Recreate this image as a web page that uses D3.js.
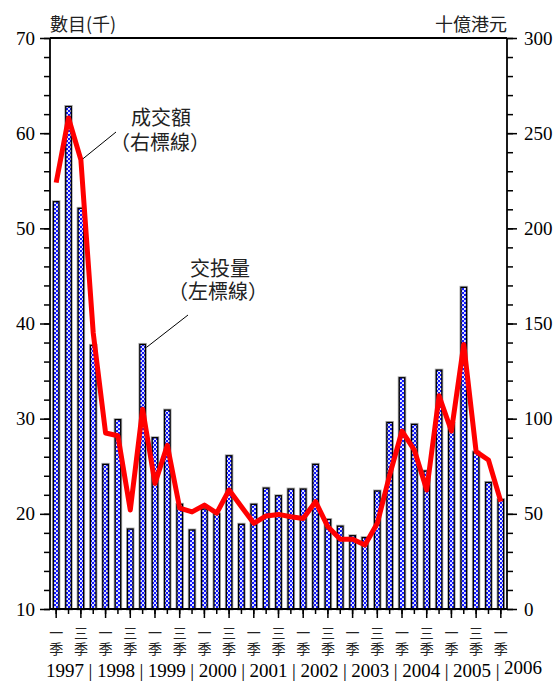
<!DOCTYPE html>
<html>
<head>
<meta charset="utf-8">
<script src="https://cdn.jsdelivr.net/npm/d3@7"></script>
<style>
  body { margin: 0; background: #fff; }
  svg { display: block; }
</style>
</head>
<body>
<svg id="chart" width="557" height="682"></svg>
<script>
// Quarterly categories, 1997 Q1 to 2006 Q1
const quarters = [
  "1997Q1","1997Q2","1997Q3","1997Q4",
  "1998Q1","1998Q2","1998Q3","1998Q4",
  "1999Q1","1999Q2","1999Q3","1999Q4",
  "2000Q1","2000Q2","2000Q3","2000Q4",
  "2001Q1","2001Q2","2001Q3","2001Q4",
  "2002Q1","2002Q2","2002Q3","2002Q4",
  "2003Q1","2003Q2","2003Q3","2003Q4",
  "2004Q1","2004Q2","2004Q3","2004Q4",
  "2005Q1","2005Q2","2005Q3","2005Q4",
  "2006Q1"
];

// 交投量 (thousands, left axis)
const volume = [
  52.8, 62.8, 52.1, 37.7,
  25.2, 29.9, 18.4, 37.8,
  28.0, 30.9, 21.0, 18.3,
  20.5, 20.0, 26.1, 18.9,
  21.0, 22.7, 21.9, 22.6,
  22.6, 25.2, 19.4, 18.7,
  17.7, 17.5, 22.4, 29.6,
  34.3, 29.4, 24.5, 35.1,
  29.5, 43.8, 26.5, 23.3,
  21.5
];

// 成交額 (HK$ billion, right axis)
const turnover = [
  224, 258, 236, 145,
  92.5, 91, 52, 105,
  66, 86, 53, 51,
  54.6, 50.4, 62.5, 53.7,
  45, 48.9, 49.7, 48.5,
  47.6, 56.4, 43.2, 36.6,
  36.6, 33.6, 45, 70.4,
  93.5, 83.5, 62.5, 112,
  93.5, 139, 82.7, 78.3,
  56.4
];

// Axis tick values
const leftMajor = [10, 20, 30, 40, 50, 60, 70];
const leftMinor = d3.range(10, 71, 2);
const rightMajor = [0, 50, 100, 150, 200, 250, 300];
const rightMinor = d3.range(0, 301, 10);

// Quarter marks shown under Q1 and Q3
const quarterMarks = { Q1: "一", Q3: "三" };
const quarterWord = "季";
const years = ["1997","1998","1999","2000","2001","2002","2003","2004","2005","2006"];

const svg = d3.select("#chart");
const plotL = 50, plotR = 507, plotT = 38, plotB = 609;

const x = d3.scaleBand().domain(quarters).range([plotL, plotR])
  .paddingInner(0.55).paddingOuter(0.275);
const yL = d3.scaleLinear().domain([10, 70]).range([plotB, plotT]);
const yR = d3.scaleLinear().domain([0, 300]).range([plotB, plotT]);

const numFont = "'Liberation Serif', 'Times New Roman', serif";
const cjkFont = "'Noto Sans CJK TC', 'Noto Sans CJK SC', sans-serif";

// Fill pattern for the bars: blue lattice with white dots
const defs = svg.append("defs");
const pat = defs.append("pattern").attr("id", "checks")
  .attr("patternUnits", "userSpaceOnUse").attr("width", 4).attr("height", 4);
pat.append("rect").attr("width", 4).attr("height", 4).attr("fill", "#1018ff");
pat.append("circle").attr("cx", 1).attr("cy", 1).attr("r", 1.05).attr("fill", "#ffffff");
pat.append("circle").attr("cx", 3).attr("cy", 3).attr("r", 1.05).attr("fill", "#ffffff");

// Bars
const bars = svg.append("g");
bars.selectAll("rect.halo").data(volume).join("rect").attr("class", "halo")
  .attr("x", (d, i) => x(quarters[i]))
  .attr("y", d => yL(d))
  .attr("width", x.bandwidth())
  .attr("height", d => yL(10) - yL(d))
  .attr("fill", "none").attr("stroke", "#b0b0b0").attr("stroke-width", 3);
bars.selectAll("rect.bar").data(volume).join("rect").attr("class", "bar")
  .attr("x", (d, i) => x(quarters[i]))
  .attr("y", d => yL(d))
  .attr("width", x.bandwidth())
  .attr("height", d => yL(10) - yL(d))
  .attr("fill", "url(#checks)").attr("stroke", "#000").attr("stroke-width", 1.3);

// Turnover line
const line = d3.line()
  .x((d, i) => x(quarters[i]) + x.bandwidth() / 2)
  .y(d => yR(d));
svg.append("path").datum(turnover)
  .attr("d", line)
  .attr("fill", "none").attr("stroke", "#ff0000")
  .attr("stroke-width", 5).attr("stroke-linejoin", "round");

// Axes
function styleAxis(g) {
  g.select(".domain").remove();
  g.selectAll(".tick line").attr("stroke", "#000").attr("stroke-width", 1.5);
  g.selectAll(".tick text").attr("font-family", numFont).attr("font-size", 19).attr("fill", "#000");
}
svg.append("g").attr("transform", `translate(${plotL},0)`)
  .call(d3.axisLeft(yL).tickValues(leftMinor).tickSize(6).tickFormat(""))
  .call(styleAxis);
svg.append("g").attr("transform", `translate(${plotL},0)`)
  .call(d3.axisLeft(yL).tickValues(leftMajor).tickSize(10).tickPadding(5).tickFormat(d3.format("d")))
  .call(styleAxis);
svg.append("g").attr("transform", `translate(${plotR},0)`)
  .call(d3.axisRight(yR).tickValues(rightMinor).tickSize(6).tickFormat(""))
  .call(styleAxis);
svg.append("g").attr("transform", `translate(${plotR},0)`)
  .call(d3.axisRight(yR).tickValues(rightMajor).tickSize(10).tickPadding(7).tickFormat(d3.format("d")))
  .call(styleAxis);

// Bottom ticks: longer under labelled quarters
const labelled = quarters.filter(q => quarterMarks[q.slice(4)]);
svg.append("g").attr("transform", `translate(0,${plotB})`)
  .call(d3.axisBottom(x).tickSize(5).tickFormat(""))
  .call(styleAxis);
svg.append("g").attr("transform", `translate(0,${plotB})`)
  .call(d3.axisBottom(x).tickValues(labelled).tickSize(9).tickFormat(""))
  .call(styleAxis);

// Frame
const frame = svg.append("g").attr("stroke", "#000").attr("stroke-width", 1.8);
frame.append("line").attr("x1", plotL).attr("x2", plotL).attr("y1", plotT).attr("y2", plotB);
frame.append("line").attr("x1", plotR).attr("x2", plotR).attr("y1", plotT).attr("y2", plotB);
frame.append("line").attr("x1", plotL).attr("x2", plotR).attr("y1", plotT).attr("y2", plotT);
frame.append("line").attr("x1", plotL).attr("x2", plotR).attr("y1", plotB).attr("y2", plotB);

// Quarter labels, written vertically (mark above 季)
const ql = svg.append("g").attr("font-family", cjkFont).attr("font-size", 14)
  .attr("fill", "#222").attr("text-anchor", "middle");
labelled.forEach(q => {
  const cx = x(q) + x.bandwidth() / 2;
  const t = ql.append("text").attr("x", cx).attr("y", 638);
  t.append("tspan").attr("x", cx).text(quarterMarks[q.slice(4)]);
  t.append("tspan").attr("x", cx).attr("dy", 16).text(quarterWord);
});

// Year labels with separators
const yx = d3.scalePoint().domain(years).range([65, 523]);
const yl = svg.append("g").attr("font-family", numFont).attr("font-size", 19)
  .attr("fill", "#000").attr("text-anchor", "middle");
years.forEach((yr, i) => {
  yl.append("text").attr("x", yx(yr)).attr("y", i === years.length - 1 ? 674 : 677).text(yr);
  if (i > 0) {
    yl.append("text").attr("x", (yx(years[i - 1]) + yx(yr)) / 2).attr("y", 677).text("|");
  }
});

// Axis titles
svg.append("text").attr("x", plotL).attr("y", 31)
  .attr("font-family", cjkFont).attr("font-size", 18).attr("fill", "#222")
  .text("數目(千)");
svg.append("text").attr("x", plotR).attr("y", 31).attr("text-anchor", "end")
  .attr("font-family", cjkFont).attr("font-size", 18).attr("fill", "#222")
  .text("十億港元");

// Series annotations with leader lines
const notes = svg.append("g").attr("font-family", cjkFont).attr("font-size", 20)
  .attr("fill", "#222").attr("text-anchor", "middle");
const n1 = notes.append("text").attr("x", 161).attr("y", 125);
n1.append("tspan").attr("x", 161).text("成交額");
n1.append("tspan").attr("x", 160).attr("dy", 25).text("（右標線）");
const n2 = notes.append("text").attr("x", 220).attr("y", 276);
n2.append("tspan").attr("x", 220).text("交投量");
n2.append("tspan").attr("x", 218).attr("dy", 23).text("（左標線）");

const leaders = svg.append("g").attr("stroke", "#000").attr("stroke-width", 1);
leaders.append("line")
  .attr("x1", 116).attr("y1", 132)
  .attr("x2", x("1997Q3") + x.bandwidth() / 2 + 2).attr("y2", yR(turnover[2]) - 1);
leaders.append("line")
  .attr("x1", 188).attr("y1", 315)
  .attr("x2", x("1998Q4") + x.bandwidth() + 1).attr("y2", yL(volume[7]) + 3);
</script>
</body>
</html>
